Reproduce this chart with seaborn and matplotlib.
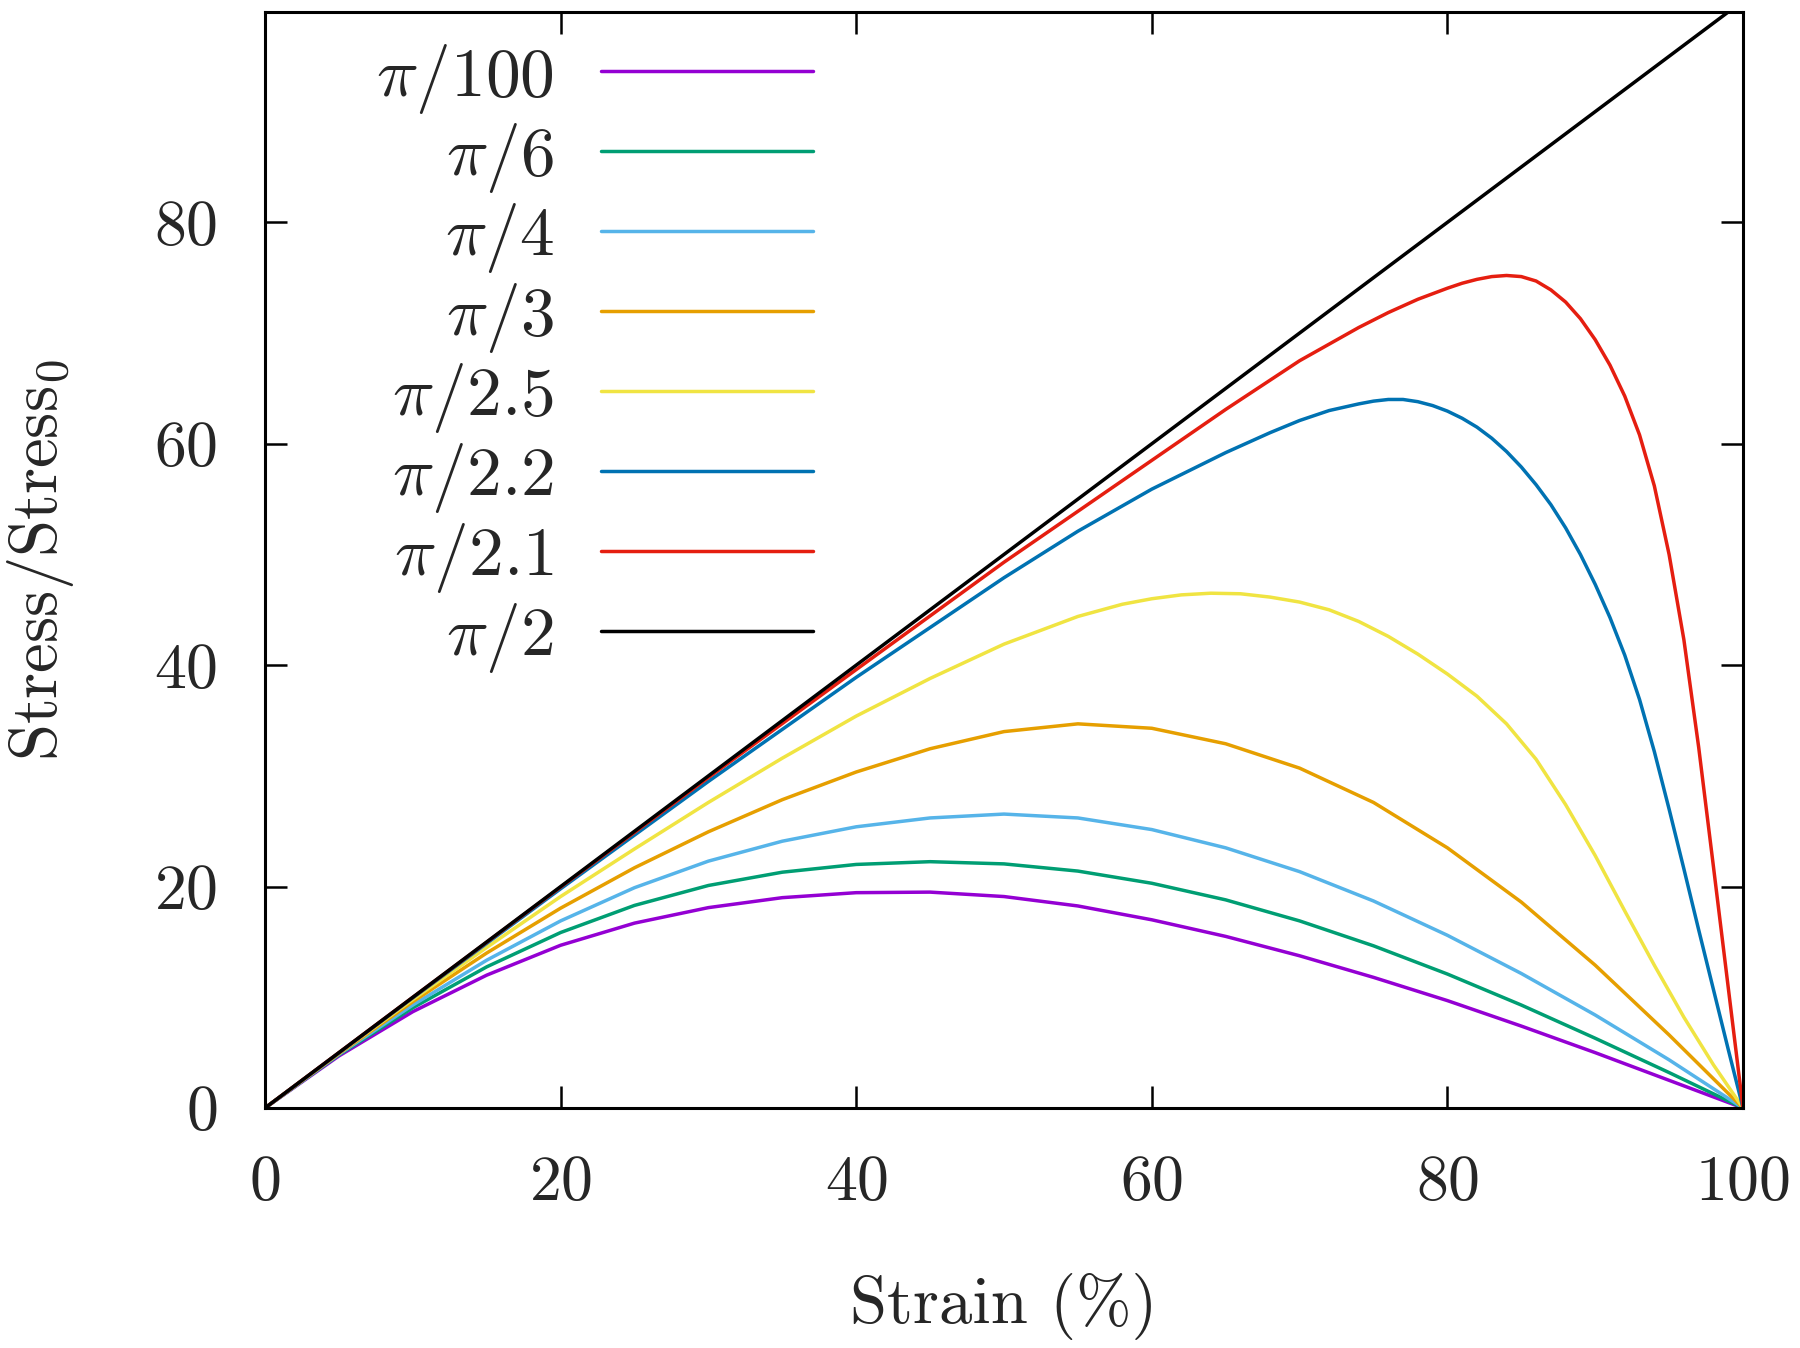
import matplotlib
matplotlib.use("Agg")
import pandas as pd
import seaborn as sns
from matplotlib import pyplot as plt

# strain (%) and stress/stress0, one list pair per angle
x_grid = [0, 5, 10, 15, 20, 25, 30, 35, 40, 45, 50, 55, 60, 65, 70, 75, 80, 85, 90, 95, 100]

y_pi100 = [0, 4.7, 8.7, 12.0, 14.7, 16.7, 18.1, 19.0, 19.45, 19.5, 19.1, 18.25, 17.0, 15.5, 13.75, 11.8, 9.7, 7.4, 5.0, 2.5, 0]
y_pi6 = [0, 4.8, 9.05, 12.75, 15.85, 18.3, 20.1, 21.3, 22.0, 22.25, 22.05, 21.4, 20.3, 18.8, 16.9, 14.65, 12.1, 9.3, 6.3, 3.2, 0]
y_pi4 = [0, 4.85, 9.3, 13.35, 16.9, 19.9, 22.3, 24.1, 25.4, 26.2, 26.55, 26.2, 25.15, 23.5, 21.35, 18.7, 15.6, 12.15, 8.4, 4.35, 0]
y_pi3 = [0, 4.9, 9.6, 14.0, 18.05, 21.7, 24.95, 27.85, 30.35, 32.45, 34.0, 34.7, 34.3, 32.9, 30.7, 27.6, 23.5, 18.6, 12.9, 6.6, 0]

x_pi25 = [0, 5, 10, 15, 20, 25, 30, 35, 40, 45, 50, 55, 58, 60, 62, 64, 66, 68, 70, 72, 74, 76, 78,
          80, 82, 84, 86, 88, 90, 92, 94, 96, 98, 100]
y_pi25 = [0, 4.95, 9.8, 14.5, 19.1, 23.4, 27.6, 31.6, 35.4, 38.8, 41.9, 44.4, 45.5, 46.0, 46.35, 46.5, 46.45, 46.15, 45.7, 45.0, 43.95, 42.6, 41.0,
          39.2, 37.2, 34.7, 31.5, 27.4, 22.8, 17.8, 12.9, 8.2, 3.9, 0]

x_pi22 = [0, 10, 20, 30, 40, 50, 55, 60, 65, 68, 70, 72, 74, 75, 76, 77, 78, 79, 80, 81, 82, 83, 84,
          85, 86, 87, 88, 89, 90, 91, 92, 93, 94, 95, 96, 97, 98, 99, 100]
y_pi22 = [0, 9.95, 19.8, 29.5, 38.9, 47.9, 52.1, 55.9, 59.2, 61.0, 62.1, 63.0, 63.6, 63.85, 64.0, 64.0, 63.8, 63.45, 62.95, 62.3, 61.5, 60.5, 59.3,
          57.9, 56.3, 54.5, 52.4, 50.0, 47.3, 44.3, 40.9, 36.9, 32.2, 27.0, 21.6, 16.1, 10.7, 5.3, 0]

x_pi21 = [0, 10, 20, 30, 40, 50, 55, 60, 65, 70, 72, 74, 76, 78, 80, 81, 82, 83, 84, 85, 86, 87, 88,
          89, 90, 91, 92, 93, 94, 95, 96, 97, 98, 99, 100]
y_pi21 = [0, 10.0, 19.95, 29.85, 39.6, 49.3, 53.9, 58.5, 63.1, 67.5, 69.0, 70.5, 71.85, 73.05, 74.05, 74.5, 74.85, 75.1, 75.2, 75.1, 74.7, 73.9, 72.8,
          71.3, 69.4, 67.1, 64.3, 60.8, 56.2, 50.0, 42.3, 32.6, 21.8, 10.9, 0]

x_pi2 = [0, 100]
y_pi2 = [0, 100]

labels = [r"$\pi/100$", r"$\pi/6$", r"$\pi/4$", r"$\pi/3$",
          r"$\pi/2.5$", r"$\pi/2.2$", r"$\pi/2.1$", r"$\pi/2$"]
colors = ["#9400d3", "#009e73", "#56b4e9", "#e69f00",
          "#f0e442", "#0072b2", "#e51e10", "#000000"]
series = [(x_grid, y_pi100), (x_grid, y_pi6), (x_grid, y_pi4), (x_grid, y_pi3),
          (x_pi25, y_pi25), (x_pi22, y_pi22), (x_pi21, y_pi21), (x_pi2, y_pi2)]

sns.set_style("ticks")
plt.rcParams["font.family"] = ["cmr10", "DejaVu Serif"]
plt.rcParams["mathtext.fontset"] = "cm"
plt.rcParams["axes.formatter.use_mathtext"] = True
plt.rcParams["axes.unicode_minus"] = False

fig = plt.figure(figsize=(9, 6.74), dpi=200)
ax = fig.add_axes([265 / 1800, 240 / 1348, 1478 / 1800, 1096 / 1348])

for lab, col, (xs, ys) in zip(labels, colors, series):
    df = pd.DataFrame({"strain": xs, "stress": ys})
    sns.lineplot(data=df, x="strain", y="stress", color=col, label=lab,
                 linewidth=1.25, estimator=None, sort=False, ax=ax)

ax.set_xlim(0, 100)
ax.set_ylim(0, 99)
ax.set_xticks([0, 20, 40, 60, 80, 100])
ax.set_yticks([0, 20, 40, 60, 80])
ax.tick_params(direction="in", length=8, width=0.9, top=True, right=True,
               labelsize=23, pad=17, color="black")
for sp in ax.spines.values():
    sp.set_linewidth(1.1)
    sp.set_color("black")

ax.set_xlabel("Strain (%)", fontsize=24)
ax.set_ylabel(r"Stress/Stress$_0$", fontsize=24)
ax.xaxis.set_label_coords(0.5, -0.151)
ax.yaxis.set_label_coords(-0.128, 0.5)

ax.legend(loc="upper right", bbox_to_anchor=(0.371, 0.973), frameon=False,
          markerfirst=False, fontsize=25, handlelength=3.06, handletextpad=0.68,
          labelspacing=0.085, borderpad=0, borderaxespad=0)

fig.savefig("out.png", dpi=200)
